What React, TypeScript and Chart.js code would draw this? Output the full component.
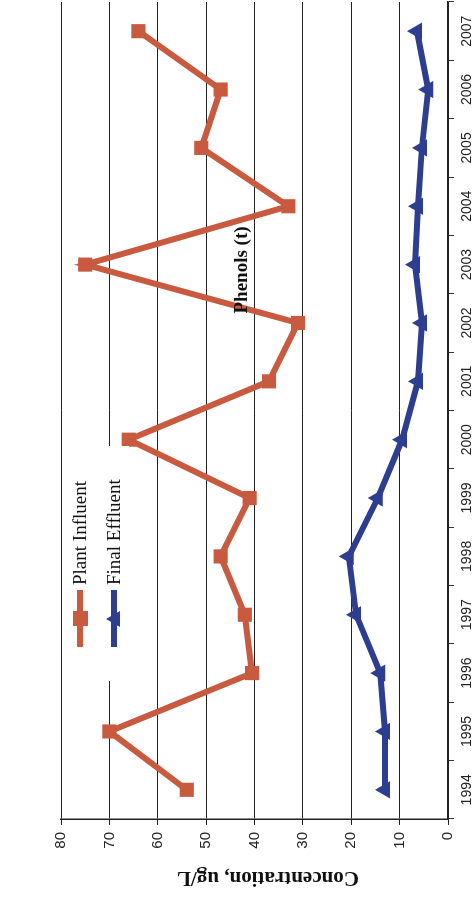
import React, { useEffect, useRef } from "react";
import { Chart, registerables } from "chart.js";

Chart.register(...registerables);

const years = ["1994", "1995", "1996", "1997", "1998", "1999", "2000", "2001", "2002", "2003", "2004", "2005", "2006", "2007"];
const plantInfluent = [54, 70, 40.5, 42, 47, 41, 66, 37, 31, 75, 33, 51, 47, 64];
const finalEffluent = [13, 13, 14, 19, 20.5, 14.5, 9.5, 6.2, 5.4, 6.8, 6.2, 5.4, 4.1, 6.4];
const valueMin = 0;
const valueMax = 80;
const valueStep = 10;
const valueTitle = "Concentration, ug/L";
const chartTitle = "Phenols (t)";

const ORANGE = "#C85A3F";
const BLUE = "#2D3E91";
const W = 909;
const H = 474;
const CW = 917;

export default function App() {
  const ref = useRef<HTMLCanvasElement>(null);
  useEffect(() => {
    const chart = new Chart(ref.current as HTMLCanvasElement, {
      type: "line",
      data: {
        labels: years,
        datasets: [
          {
            label: "Plant Influent",
            data: plantInfluent,
            borderColor: ORANGE,
            backgroundColor: ORANGE,
            borderWidth: 6,
            pointStyle: "rect",
            pointRadius: 10,
            pointBorderWidth: 0,
            pointBackgroundColor: ORANGE,
            tension: 0,
          },
          {
            label: "Final Effluent",
            data: finalEffluent,
            borderColor: BLUE,
            backgroundColor: BLUE,
            borderWidth: 6,
            pointStyle: "triangle",
            pointRadius: 10,
            pointBorderWidth: 0,
            pointBackgroundColor: BLUE,
            tension: 0,
          },
        ],
      },
      options: {
        responsive: false,
        animation: false,
        devicePixelRatio: 1,
        layout: { padding: { top: 61, right: 0, left: 0, bottom: 0 } },
        plugins: {
          legend: { display: false },
          title: { display: false },
          tooltip: { enabled: false },
        },
        scales: {
          x: {
            type: "category",
            offset: true,
            grid: { offset: true, drawOnChartArea: false, drawTicks: true, tickLength: 6, color: "#333", lineWidth: 1 },
            border: { color: "#222", width: 1.5 },
            ticks: { font: { family: "Liberation Sans", size: 14 }, color: "#222", padding: 5, maxRotation: 0, autoSkip: false },
            afterFit: (s: any) => {
              s.height = 26;
              s.paddingLeft = 0;
              s.paddingRight = 0;
            },
          },
          y: {
            min: valueMin,
            max: valueMax,
            ticks: { stepSize: valueStep, font: { family: "Liberation Sans", size: 15 }, color: "#222", padding: 7 },
            grid: { color: "#222", lineWidth: 1, tickLength: 6 },
            border: { color: "#222", width: 1.5 },
            title: { display: false },
            afterFit: (s: any) => {
              s.width = 90;
            },
          },
        },
      },
    });
    return () => chart.destroy();
  }, []);

  const serif = "'Liberation Serif', 'Times New Roman', serif";
  return (
    <div
      style={{
        position: "fixed",
        left: 0,
        top: 0,
        width: W,
        height: H,
        overflow: "hidden",
        transformOrigin: "0 0",
        transform: `translate(0px, ${W}px) rotate(-90deg)`,
        background: "#fff",
      }}
    >
      <canvas ref={ref} width={CW} height={H} style={{ width: CW, height: H, display: "block" }} />
      <div
        style={{
          position: "absolute",
          left: 30,
          top: 268,
          transform: "translate(-50%, -50%) rotate(-90deg)",
          font: `bold 21px ${serif}`,
          color: "#111",
          whiteSpace: "nowrap",
          lineHeight: "24px",
        }}
      >
        {valueTitle}
      </div>
      <div
        style={{
          position: "absolute",
          left: 639,
          top: 241,
          transform: "translate(-50%, -50%)",
          font: `bold 19px ${serif}`,
          color: "#111",
          whiteSpace: "nowrap",
          lineHeight: "22px",
        }}
      >
        {chartTitle}
      </div>
      <div style={{ position: "absolute", left: 228, top: 65, width: 235, height: 64, background: "#fff" }}>
        <div style={{ position: "absolute", left: 34, top: 12, width: 57, height: 6, background: ORANGE }} />
        <div style={{ position: "absolute", left: 55, top: 8, width: 15, height: 15, background: ORANGE }} />
        <div style={{ position: "absolute", left: 96, top: 3, font: `19px ${serif}`, color: "#111", whiteSpace: "nowrap", lineHeight: "24px" }}>Plant Influent</div>
        <div style={{ position: "absolute", left: 34, top: 46, width: 57, height: 6, background: BLUE }} />
        <div style={{ position: "absolute", left: 54, top: 41, width: 0, height: 0, borderLeft: "8px solid transparent", borderRight: "8px solid transparent", borderBottom: `14px solid ${BLUE}` }} />
        <div style={{ position: "absolute", left: 96, top: 37, font: `19px ${serif}`, color: "#111", whiteSpace: "nowrap", lineHeight: "24px" }}>Final Effluent</div>
      </div>
    </div>
  );
}
